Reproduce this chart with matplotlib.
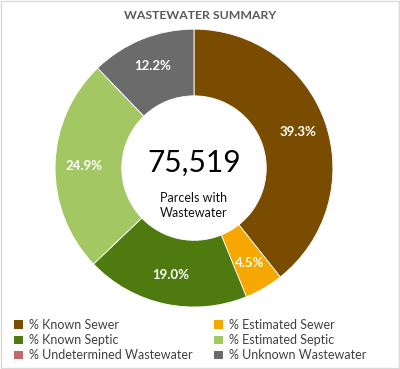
import matplotlib.pyplot as plt
from matplotlib.patches import Patch, Rectangle

plt.rcParams['font.family'] = ['Lato', 'DejaVu Sans']

CATEGORIES = ['% Known Sewer', '% Estimated Sewer', '% Known Septic',
              '% Estimated Septic', '% Undetermined Wastewater', '% Unknown Wastewater']
VALUES = [39.3, 4.5, 19.0, 24.9, 0.0, 12.2]
COLORS = ['#7a4c00', '#f7a800', '#4e7a10', '#a3c763', '#c0696b', '#6b6b6b']
TOTAL_PARCELS = '75,519'

fig = plt.figure(figsize=(4.0, 3.69), dpi=100)
fig.patch.set_facecolor('white')
fig.add_artist(Rectangle((0.002, 0.002), 0.996, 0.996, transform=fig.transFigure,
                         fill=False, edgecolor='#d9d9d9', linewidth=1))

ax = fig.add_axes([0.1375, 0.168, 0.695, 0.753])
total = sum(VALUES)


def fmt(p):
    v = p * total / 100
    return '' if v < 0.05 else f'{v:.1f}%'


wedges, texts, autotexts = ax.pie(
    VALUES, colors=COLORS, startangle=90, counterclock=False,
    autopct=fmt, pctdistance=0.79,
    wedgeprops=dict(width=0.48, edgecolor='white', linewidth=0.6),
    textprops=dict(color='white', fontsize=9.5, fontweight='bold'))
ax.set_xlim(-1, 1)
ax.set_ylim(-1, 1)
ax.set_aspect('equal')
ax.axis('off')

ax.text(0, 0.04, TOTAL_PARCELS, ha='center', va='center', fontsize=21.5, color='black')
ax.text(0, -0.27, 'Parcels with\nWastewater', ha='center', va='center',
        fontsize=9, color='#111111', linespacing=1.35)

fig.text(0.5, 0.957, 'WASTEWATER SUMMARY', ha='center', va='center',
         fontsize=8.8, fontweight='bold', color='#595959')

handles = [Patch(facecolor=c, edgecolor='none') for c in COLORS]
order = [0, 2, 4, 1, 3, 5]
leg = fig.legend([handles[i] for i in order], [CATEGORIES[i] for i in order],
                 ncol=2, loc='upper left', bbox_to_anchor=(0.035, 0.135),
                 frameon=False, fontsize=9, handlelength=0.7, handleheight=0.7,
                 handletextpad=0.5, columnspacing=1.7, labelspacing=0.25,
                 borderaxespad=0, borderpad=0)
for t in leg.get_texts():
    t.set_color('#404040')

fig.savefig('out.png', dpi=100)
